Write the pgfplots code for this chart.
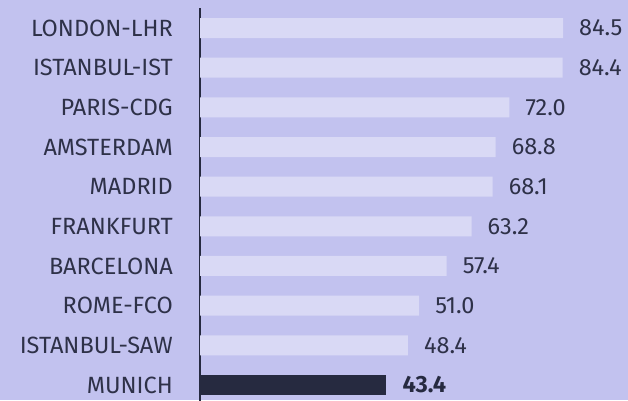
\documentclass[border=0pt]{standalone}
\usepackage{fontspec}
\setmainfont{Fira Sans}
\usepackage{pgfplots}
\pgfplotsset{compat=1.18}
\definecolor{bg}{HTML}{C2C2EF}
\definecolor{barc}{HTML}{D9D9F5}
\definecolor{dark}{HTML}{262A40}
\definecolor{txt}{HTML}{2E3148}
\begin{document}
\begin{tikzpicture}[x=1pt,y=1pt]
\fill[bg] (0,0) rectangle (628,400);
\begin{axis}[
  at={(200pt,-4.8pt)}, anchor=south west,
  scale only axis, width=428pt, height=396.6pt,
  xmin=0, xmax=99.63, ymin=-0.5, ymax=9.5, y dir=reverse,
  hide x axis,
  axis y line*=left,
  y axis line style={line width=2.8pt, draw=dark, -},
  ytick={0,...,9},
  yticklabels={LONDON-LHR,ISTANBUL-IST,PARIS-CDG,AMSTERDAM,MADRID,FRANKFURT,BARCELONA,ROME-FCO,ISTANBUL-SAW,MUNICH},
  major tick length=0pt,
  yticklabel style={font=\fontsize{23.5}{27}\selectfont, text=txt, inner sep=0pt, anchor=east, xshift=-27pt},
  xbar, bar width=20pt, bar shift=0pt,
  nodes near coords,
  /pgf/number format/assume math mode=true,
  /pgf/number format/fixed, /pgf/number format/fixed zerofill, /pgf/number format/precision=1,
  nodes near coords style={anchor=west, inner sep=0pt, xshift=16pt, font=\fontsize{23.5}{27}\selectfont, text=txt},
  clip=false,
]
\addplot[fill=barc, draw=none] coordinates {(84.5,0) (84.4,1) (72.0,2) (68.8,3) (68.1,4) (63.2,5) (57.4,6) (51.0,7) (48.4,8)};
\addplot[fill=dark, draw=none, nodes near coords style={font=\fontsize{23.5}{27}\selectfont\bfseries, text=dark}] coordinates {(43.4,9)};
\end{axis}
\pgfresetboundingbox
\path (0,0) rectangle (628,400);
\end{tikzpicture}
\end{document}
